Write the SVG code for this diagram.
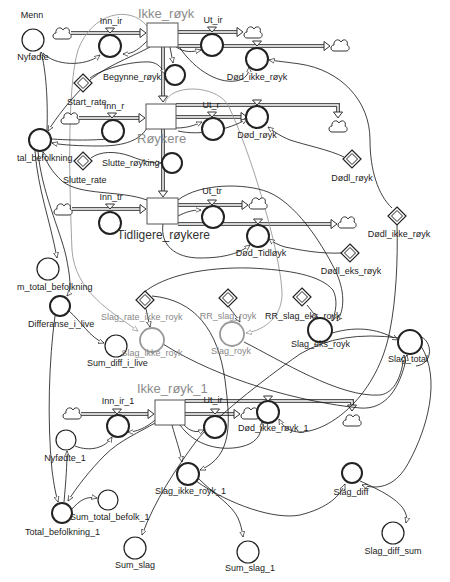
<svg xmlns="http://www.w3.org/2000/svg" xmlns:xlink="http://www.w3.org/1999/xlink" width="450" height="582" viewBox="0 0 450 582">
<style>
.t{font-family:"Liberation Sans",Arial,sans-serif;font-size:9px;fill:#222}
.m{text-anchor:middle}
.sl{font-family:"Liberation Sans",Arial,sans-serif;font-size:13px;fill:#8c8c8c}
.gt{fill:#888}
.cv{fill:#fff;stroke:#222;stroke-width:1.2}
.vl{fill:#fff;stroke:#222;stroke-width:2}
.gc{fill:#fff;stroke:#999;stroke-width:1.8}
.st{fill:#fff;stroke:#555;stroke-width:1}
.pd{fill:none;stroke:#555;stroke-width:4}
.pw{fill:none;stroke:#fff;stroke-width:1.4}
.c{fill:none;stroke:#111;stroke-width:0.8}
.ca{fill:none;stroke:#111;stroke-width:0.8;marker-end:url(#ah)}
.g{fill:none;stroke:#999;stroke-width:0.9;marker-end:url(#ahg)}
.cl{fill:#fff;stroke:#333;stroke-width:1}
.tri{fill:#fff;stroke:#333;stroke-width:1}
</style>
<defs>
<marker id="ah" viewBox="0 0 10 10" refX="9" refY="5" markerUnits="userSpaceOnUse" markerWidth="6" markerHeight="6" orient="auto"><path d="M0,1 L9,5 L0,9 z" fill="#fff" stroke="#111"/></marker>
<marker id="ahg" viewBox="0 0 10 10" refX="9" refY="5" markerUnits="userSpaceOnUse" markerWidth="6" markerHeight="6" orient="auto"><path d="M0,1 L9,5 L0,9 z" fill="#fff" stroke="#888"/></marker>
<path id="cloud" class="cl" d="M-6,6 C-10,6 -10,0 -6,0 C-7,-5 -1,-7 1,-3 C3,-7 9,-5 7,0 C10,1 10,6 6,6 Z"/>
<polygon id="pa" points="-6,-4.5 0,0 -6,4.5" fill="#fff" stroke="#333" stroke-width="1"/>
<g id="dia"><polygon points="0,-9 9,0 0,9 -9,0" fill="#fff" stroke="#222" stroke-width="1.2"/><polygon points="0,-5.5 5.5,0 0,5.5 -5.5,0" fill="none" stroke="#222" stroke-width="1"/></g>
<g id="diag"><polygon points="0,-9 9,0 0,9 -9,0" fill="#fff" stroke="#999" stroke-width="1.2"/><polygon points="0,-5.5 5.5,0 0,5.5 -5.5,0" fill="none" stroke="#999" stroke-width="1"/></g>
<polygon id="vt" class="tri" points="-4.5,-5 4.5,-5 0,0"/>
</defs>
<rect width="450" height="582" fill="#fff"/>

<g id="flows">
<path class="pd" d="M71,33 H141"/><path class="pw" d="M71,33 H141"/><use href="#pa" transform="translate(146,33)"/>
<path class="pd" d="M178,32 H238"/><path class="pw" d="M178,32 H238"/><use href="#pa" transform="translate(243,32)"/>
<path class="pd" d="M178,46 H325"/><path class="pw" d="M178,46 H325"/><use href="#pa" transform="translate(330,46)"/>
<path class="pd" d="M163,47 V97"/><path class="pw" d="M163,47 V97"/><use href="#pa" transform="translate(163,102) rotate(90)"/>
<path class="pd" d="M79,118 H140"/><path class="pw" d="M79,118 H140"/><use href="#pa" transform="translate(145,118)"/>
<path class="pd" d="M176,105 H338 V113"/><path class="pw" d="M176,105 H338 V113"/><use href="#pa" transform="translate(338,118) rotate(90)"/>
<path class="pd" d="M176,117 H242"/><path class="pw" d="M176,117 H242"/><use href="#pa" transform="translate(247,117)"/>
<path class="pd" d="M163,129 V192"/><path class="pw" d="M163,129 V192"/><use href="#pa" transform="translate(163,197) rotate(90)"/>
<path class="pd" d="M72,209 H141"/><path class="pw" d="M72,209 H141"/><use href="#pa" transform="translate(146,209)"/>
<path class="pd" d="M178,205 H243"/><path class="pw" d="M178,205 H243"/><use href="#pa" transform="translate(248,205)"/>
<path class="pd" d="M178,224 H332"/><path class="pw" d="M178,224 H332"/><use href="#pa" transform="translate(337,224)"/>
<path class="pd" d="M81,414 H149"/><path class="pw" d="M81,414 H149"/><use href="#pa" transform="translate(154,414)"/>
<path class="pd" d="M185,414 H235"/><path class="pw" d="M185,414 H235"/><use href="#pa" transform="translate(240,414)"/>
<path class="pd" d="M185,401 H352 V406"/><path class="pw" d="M185,401 H352 V406"/><use href="#pa" transform="translate(352,411) rotate(90)"/>
</g>

<g id="connectors">
<path class="g" d="M147,26 C130,5 92,12 78,50 C66,90 70,200 72,250 C75,292 112,312 138,331"/>
<path class="g" d="M165,103 C170,84 215,84 228,105 C250,150 280,250 282,292 C283,315 266,330 246,333"/>
<path class="ca" d="M47,130 C48,100 46,70 41,52"/>
<path class="ca" d="M43,53 C55,66 85,67 100,55"/>
<path class="ca" d="M148,40 C140,48 134,54 123,54"/>
<path class="ca" d="M150,47 C130,58 100,68 85,85 C70,100 56,118 48,131"/>
<path class="ca" d="M90,78 C102,69 130,61 150,62 C158,63 162,68 165,74"/>
<path class="ca" d="M170,47 L173,63"/>
<path class="ca" d="M176,47 C185,53 192,52 201,50"/>
<path class="ca" d="M180,48 C195,70 220,86 240,80 C247,77 249,73 249,67"/>
<path class="ca" d="M392,208 C378,195 370,170 370,140 C370,100 340,70 300,64 C286,62 276,61 269,60"/>
<path class="ca" d="M397,224 C398,260 396,300 390,330 C378,395 330,432 300,432 C290,432 283,427 279,419"/>
<path class="ca" d="M344,157 C330,150 305,145 290,140 C280,136 273,131 268,127"/>
<path class="ca" d="M176,128 C188,128 195,125 202,122"/>
<path class="ca" d="M178,131 C200,136 228,130 247,119"/>
<path class="ca" d="M147,128 C140,140 125,146 100,146 C80,146 62,145 52,143"/>
<path class="ca" d="M52,139 C80,141 108,140 122,137"/>
<path class="ca" d="M91,158 C100,151 116,151 130,156 C145,162 154,163 161,163"/>
<path class="ca" d="M147,200 C120,190 80,196 62,181 C52,172 46,162 43,152"/>
<path class="ca" d="M35,151 C38,190 50,220 57,258"/>
<path class="ca" d="M38,151 C41,190 60,230 66,256 C70,276 72,290 67,296"/>
<path class="ca" d="M69,311 C80,320 90,338 104,343"/>
<path class="ca" d="M55,316 C49,360 47,420 52,470 C54,486 56,495 58,502"/>
<path class="ca" d="M64,502 C66,480 67,465 67,451"/>
<path class="ca" d="M155,423 C140,432 120,440 105,455 C90,470 76,488 68,501"/>
<path class="ca" d="M75,446 C90,452 105,448 112,437"/>
<path class="ca" d="M155,420 C146,428 136,432 128,432"/>
<path class="ca" d="M183,424 C190,432 197,433 204,430"/>
<path class="ca" d="M180,425 C195,446 220,451 240,447 C255,444 262,436 262,422"/>
<path class="ca" d="M172,425 C176,440 180,450 182,462"/>
<path class="ca" d="M152,296 C195,300 218,330 225,380 C230,420 234,456 200,470"/>
<path class="ca" d="M71,510 C80,500 86,496 97,498"/>
<path class="ca" d="M178,216 C186,212 192,210 201,210"/>
<path class="ca" d="M163,224 C160,245 175,258 200,258 C225,258 240,253 250,245"/>
<path class="ca" d="M178,200 C200,183 245,183 268,192 C295,203 320,240 335,270 C345,290 345,310 337,321"/>
<path class="ca" d="M143,293 C165,275 205,267 250,268 C290,270 320,275 333,290 C338,300 336,312 332,321"/>
<path class="ca" d="M342,253 C320,254 300,250 285,247 C278,245 273,242 269,239"/>
<path class="ca" d="M146,309 L150,327"/>
<path class="ca" d="M229,307 C233,313 237,317 240,322"/>
<path class="ca" d="M307,305 C312,311 315,316 318,318"/>
<path class="ca" d="M163,344 C220,380 300,402 360,408 C385,410 400,390 407,355"/>
<path class="ca" d="M244,342 C280,360 340,398 380,395 C395,393 402,375 404,355"/>
<path class="ca" d="M332,333 C360,325 380,330 398,340"/>
<path class="ca" d="M399,338 Q340,330 300,354 C260,382 215,418 197,440 C175,470 155,500 142,535"/>
<path class="c" d="M419,336 C433,340 434,364 416,366"/>
<path class="ca" d="M421,346 C442,380 426,430 410,460 C400,480 385,492 362,485"/>
<path class="ca" d="M196,481 C230,505 275,520 300,515 C328,508 340,496 345,484"/>
<path class="ca" d="M199,479 C215,495 232,505 238,518 C241,525 242,530 243,537"/>
<path class="ca" d="M360,481 C380,490 400,500 405,512 C407,516 407,519 406,523"/>
</g>

<g id="menn"><circle class="cv" cx="33" cy="40" r="11"/><text class="t m" x="32" y="18">Menn</text><text class="t m" x="33" y="60">Nyfødte</text></g>
<g id="cloud_a"><use href="#cloud" transform="translate(62,33)"/></g>
<g id="inn_ir"><use href="#vt" transform="translate(110,33)"/><circle class="vl" cx="110" cy="46" r="11"/><text class="t m" x="111" y="24">Inn_ir</text></g>
<g id="ikke_royk"><rect class="st" x="147" y="23" width="31" height="24"/><text class="sl" x="138" y="18">Ikke_røyk</text></g>
<g id="ut_ir"><use href="#vt" transform="translate(212,32)"/><circle class="vl" cx="212" cy="45" r="11"/><text class="t m" x="213" y="23">Ut_ir</text></g>
<g id="cloud_b"><use href="#cloud" transform="translate(253,32)"/></g>
<g id="dod_ikke_royk"><use href="#vt" transform="translate(257,46)"/><circle class="vl" cx="257" cy="59" r="11"/><text class="t m" x="257" y="80">Død_ikke_røyk</text></g>
<g id="cloud_c"><use href="#cloud" transform="translate(340,45)"/></g>
<g id="begynne_royk"><circle class="vl" cx="175" cy="75" r="10"/><text class="t" x="103" y="80">Begynne_røyk</text></g>
<g id="start_rate"><use href="#dia" x="83" y="83"/><text class="t" x="67" y="105">Start_rate</text></g>
<g id="tal_befolkning"><circle class="vl" cx="40" cy="140" r="11"/><text class="t" x="17" y="161">tal_befolkning</text></g>
<g id="cloud_d"><use href="#cloud" transform="translate(70,118)"/></g>
<g id="inn_r"><use href="#vt" transform="translate(112,118)"/><circle class="vl" cx="113" cy="131" r="11"/><text class="t m" x="114" y="109">Inn_r</text></g>
<g id="roykere"><rect class="st" x="146" y="104" width="30" height="25"/><text class="sl" x="137" y="143">Røykere</text></g>
<g id="ut_r"><use href="#vt" transform="translate(212,117)"/><circle class="vl" cx="213" cy="129" r="11"/><text class="t m" x="211" y="108">Ut_r</text></g>
<g id="dod_royk"><use href="#vt" transform="translate(257,105)"/><circle class="vl" cx="257" cy="117" r="11"/><text class="t m" x="257" y="138">Død_røyk</text></g>
<g id="cloud_e"><use href="#cloud" transform="translate(338,126)"/></g>
<g id="slutte_royking"><text class="t" x="102" y="166">Slutte_røyking</text><circle class="vl" cx="172" cy="163" r="10"/></g>
<g id="slutte_rate"><use href="#dia" x="83" y="161"/><text class="t" x="63" y="183">Slutte_rate</text></g>
<g id="cloud_f"><use href="#cloud" transform="translate(63,209)"/></g>
<g id="inn_tr"><use href="#vt" transform="translate(110,209)"/><circle class="vl" cx="110" cy="223" r="11"/><text class="t m" x="111" y="200">Inn_tr</text></g>
<g id="tidligere_roykere"><rect class="st" x="147" y="198" width="31" height="26"/><text x="117" y="239" style="font-family:'Liberation Sans',Arial,sans-serif;font-size:12px;fill:#333">Tidligere_røykere</text></g>
<g id="ut_tr"><use href="#vt" transform="translate(212,205)"/><circle class="vl" cx="213" cy="217" r="11"/><text class="t m" x="212" y="194">Ut_tr</text></g>
<g id="cloud_g"><use href="#cloud" transform="translate(258,203)"/></g>
<g id="dod_tidloyk"><use href="#vt" transform="translate(258,224)"/><circle class="vl" cx="258" cy="236" r="11"/><text class="t m" x="261" y="256">Død_Tidløyk</text></g>
<g id="cloud_h"><use href="#cloud" transform="translate(347,222)"/></g>
<g id="dodl_royk"><use href="#dia" x="352" y="159"/><text class="t m" x="352" y="181">Dødl_røyk</text></g>
<g id="dodl_ikke_royk"><use href="#dia" x="397" y="216"/><text class="t m" x="399" y="237">Dødl_ikke_røyk</text></g>
<g id="dodl_eks_royk"><use href="#dia" x="350" y="253"/><text class="t m" x="351" y="274">Dødl_eks_røyk</text></g>
<g id="m_total_befolkning"><circle class="cv" cx="48" cy="269" r="11"/><text class="t" x="17" y="290">m_total_befolkning</text></g>
<g id="differanse_i_live"><circle class="vl" cx="60" cy="306" r="10"/><text class="t" x="28" y="327">Differanse_i_live</text></g>
<g id="sum_diff_i_live"><circle class="cv" cx="116" cy="346" r="11"/><text class="t" x="87" y="366">Sum_diff_i_live</text></g>
<g id="slag_rate_ikke_royk"><use href="#dia" x="145" y="300"/><text class="t gt" x="101" y="320">Slag_rate_ikke_royk</text></g>
<g id="slag_ikke_royk"><circle class="gc" cx="152" cy="340" r="12"/><text class="t m gt" x="152" y="356">Slag_ikke_royk</text></g>
<g id="rr_slag_royk"><use href="#dia" x="228" y="298"/><text class="t m gt" x="228" y="319">RR_slag_royk</text></g>
<g id="slag_royk"><circle class="gc" cx="232" cy="334" r="12"/><text class="t m gt" x="231" y="354">Slag_royk</text></g>
<g id="rr_slag_eks_royk"><use href="#dia" x="302" y="297"/><text class="t" x="265" y="319">RR_slag_eks_royk</text></g>
<g id="slag_eks_royk"><circle class="vl" cx="320" cy="330" r="12"/><text class="t" x="291" y="347">Slag_eks_royk</text></g>
<g id="slag_total"><circle class="vl" cx="410" cy="342" r="12"/><text class="t m" x="408" y="362">Slag_total</text></g>
<g id="ikke_royk_1"><rect class="st" x="155" y="400" width="30" height="25"/><text class="sl" x="137" y="393">Ikke_røyk_1</text></g>
<g id="cloud_i"><use href="#cloud" transform="translate(72,413)"/></g>
<g id="inn_ir_1"><use href="#vt" transform="translate(117,414)"/><circle class="vl" cx="118" cy="426" r="11"/><text class="t m" x="118" y="404">Inn_ir_1</text></g>
<g id="ut_ir_1"><use href="#vt" transform="translate(215,414)"/><circle class="vl" cx="215" cy="427" r="11"/><text class="t m" x="213" y="403">Ut_ir</text></g>
<g id="cloud_j"><use href="#cloud" transform="translate(250,413)"/></g>
<g id="dod_ikke_royk_1"><use href="#vt" transform="translate(268,401)"/><circle class="vl" cx="268" cy="412" r="11"/><text class="t" x="238" y="431">Død_ikke_røyk_1</text></g>
<g id="cloud_k"><use href="#cloud" transform="translate(352,420)"/></g>
<g id="nyfodte_1"><circle class="cv" cx="66" cy="440" r="10"/><text class="t m" x="65" y="461">Nyfødte_1</text></g>
<g id="total_befolkning_1"><circle class="vl" cx="62" cy="513" r="10"/><text class="t" x="25" y="535">Total_befolkning_1</text></g>
<g id="sum_total_befolk_1"><circle class="cv" cx="108" cy="500" r="10"/><text class="t" x="70" y="520">Sum_total_befolk_1</text></g>
<g id="sum_slag"><circle class="cv" cx="135" cy="548" r="11"/><text class="t" x="115" y="568">Sum_slag</text></g>
<g id="slag_ikke_royk_1"><circle class="vl" cx="188" cy="474" r="11"/><text class="t" x="155" y="494">Slag_ikke_royk_1</text></g>
<g id="sum_slag_1"><circle class="cv" cx="248" cy="552" r="11"/><text class="t" x="225" y="571">Sum_slag_1</text></g>
<g id="slag_diff"><circle class="vl" cx="352" cy="473" r="10"/><text class="t m" x="351" y="495">Slag_diff</text></g>
<g id="slag_diff_sum"><circle class="cv" cx="393" cy="533" r="11"/><text class="t m" x="393" y="554">Slag_diff_sum</text></g>
</svg>
